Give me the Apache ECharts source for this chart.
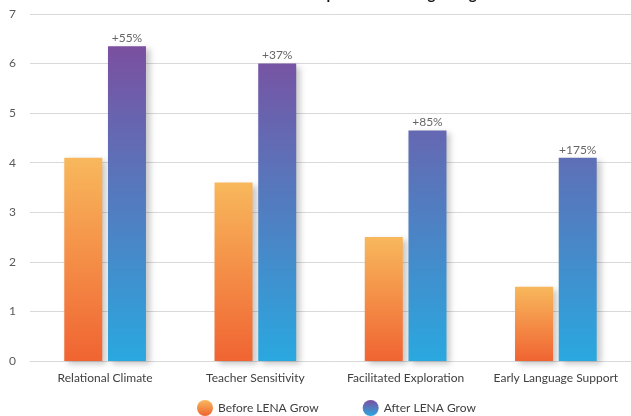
<!DOCTYPE html>
<html>
<head>
<meta charset="utf-8">
<style>
  html, body { margin: 0; padding: 0; background: #fff; }
  #chart { width: 631px; height: 416px; }
</style>
<script src="https://cdn.jsdelivr.net/npm/echarts@6/dist/echarts.min.js"></script>
</head>
<body>
<div id="chart"></div>
<script>
// data
var categories = ['Relational Climate', 'Teacher Sensitivity', 'Facilitated Exploration', 'Early Language Support'];
var beforeValues = [4.1, 3.6, 2.5, 1.5];
var afterValues = [6.35, 6.0, 4.65, 4.1];
var gainLabels = ['+55%', '+37%', '+85%', '+175%'];
var yTicks = [0, 1, 2, 3, 4, 5, 6, 7];

var G = echarts.graphic.LinearGradient;
var fontFam = 'Lato, "Open Sans", sans-serif';

// orange goes per bar, the purple one runs over the whole plot
var orangeFill = new G(0, 0, 0, 1, [{offset: 0, color: '#f8b85c'}, {offset: 1, color: '#f06432'}]);
var purpleFill = new G(0, 45, 0, 361, [{offset: 0, color: '#7b4fa0'}, {offset: 1, color: '#2aa8df'}], true);
var shadow = {shadowBlur: 6, shadowOffsetX: 4, shadowOffsetY: 3, shadowColor: 'rgba(0,0,0,0.22)'};

var myChart = echarts.init(document.getElementById('chart'));
var option = {
    animation: false,
    textStyle: {fontFamily: fontFam},
    // title is cut off by the top edge in the reference
    title: {
        text: 'CLASS Scores: Improved Teaching Using LENA Grow',
        left: 205,
        top: -18,
        textStyle: {fontSize: 15, fontWeight: 'bold', color: '#111', fontFamily: fontFam}
    },
    grid: {left: 30, right: -6, top: 14, bottom: 55},
    legend: {
        bottom: 0,
        left: 197,
        padding: 0,
        icon: 'circle',
        itemWidth: 16,
        itemHeight: 16,
        itemGap: 44,
        textStyle: {fontSize: 12, color: '#404040', fontFamily: fontFam},
        itemStyle: {shadowBlur: 0, shadowOffsetX: 0, shadowOffsetY: 0},
        data: [
            {name: 'Before LENA Grow', itemStyle: {color: new G(0, 0, 0, 1, [{offset: 0, color: '#f8b85c'}, {offset: 1, color: '#f06432'}])}},
            {name: 'After LENA Grow', itemStyle: {color: new G(0, 0, 0, 1, [{offset: 0, color: '#7b4fa0'}, {offset: 1, color: '#2aa8df'}])}}
        ]
    },
    xAxis: {
        type: 'category',
        data: categories,
        axisLine: {lineStyle: {color: '#d9d9d9'}},
        axisTick: {show: false},
        axisLabel: {fontSize: 12, color: '#404040', margin: 11, interval: 0}
    },
    yAxis: {
        type: 'value',
        min: yTicks[0],
        max: yTicks[yTicks.length - 1],
        interval: 1,
        axisLine: {show: false},
        axisTick: {show: false},
        axisLabel: {fontSize: 12, color: '#595959', margin: 14},
        splitLine: {lineStyle: {color: '#d9d9d9'}}
    },
    series: [{
        name: 'Before LENA Grow',
        type: 'bar',
        data: beforeValues,
        barWidth: 38,
        barGap: '15%',
        itemStyle: Object.assign({color: orangeFill}, shadow)
    }, {
        name: 'After LENA Grow',
        type: 'bar',
        data: afterValues,
        barWidth: 38,
        itemStyle: Object.assign({color: purpleFill}, shadow),
        label: {
            show: true,
            position: 'top',
            distance: 2,
            fontSize: 12,
            color: '#666',
            formatter: function (p) { return gainLabels[p.dataIndex]; }
        }
    }]
};
myChart.setOption(option);
</script>
</body>
</html>
